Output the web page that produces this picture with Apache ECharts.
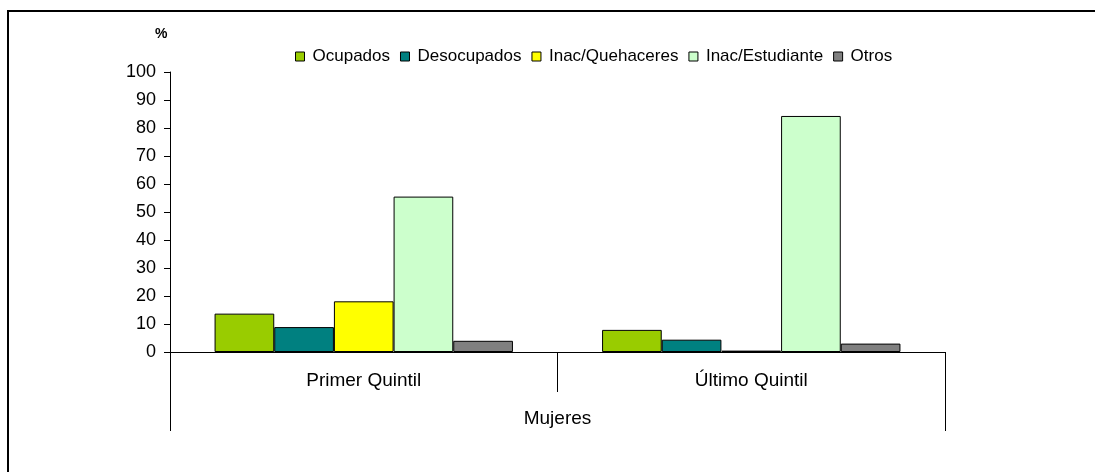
<!DOCTYPE html>
<html>
<head>
<meta charset="utf-8">
<script src="https://cdn.jsdelivr.net/npm/echarts@6/dist/echarts.min.js"></script>
<style>
html,body{margin:0;padding:0;background:#fff;}
#chart{width:1095px;height:472px;}
</style>
</head>
<body>
<div id="chart"></div>
<script>
var categories = ['Primer Quintil', 'Último Quintil'];
var groupLabel = ['Mujeres'];
var seriesNames = ['Ocupados', 'Desocupados', 'Inac/Quehaceres', 'Inac/Estudiante', 'Otros'];
var ocupados = [13.7, 7.9];
var desocupados = [8.9, 4.4];
var quehaceres = [18.1, 0.5];
var estudiante = [55.5, 84.3];
var otros = [4.0, 3.0];
var colors = ['#99CC00', '#008080', '#FFFF00', '#CCFFCC', '#808080'];

var values = [ocupados, desocupados, quehaceres, estudiante, otros];
var FONT = '"Liberation Sans", Arial, sans-serif';

var chart = echarts.init(document.getElementById('chart'), null, {renderer: 'canvas'});
var series = seriesNames.map(function (name, i) {
  return {
    name: name,
    type: 'bar',
    data: values[i],
    xAxisIndex: 0,
    barGap: '0%',
    barCategoryGap: '23%',
    itemStyle: {color: colors[i], borderColor: '#000', borderWidth: 1},
    emphasis: {disabled: true}
  };
});

chart.setOption({
  animation: false,
  backgroundColor: '#fff',
  color: colors,
  textStyle: {fontFamily: FONT, color: '#000'},
  grid: {left: 170, right: 150, top: 72, bottom: 120, containLabel: false},
  legend: {
    data: seriesNames,
    left: 290,
    top: 43,
    itemWidth: 9,
    itemHeight: 9,
    itemGap: 10,
    icon: 'rect',
    itemStyle: {borderColor: '#000', borderWidth: 1},
    textStyle: {fontFamily: FONT, fontSize: 17, color: '#000', padding: [0, 0, 0, 3]}
  },
  graphic: [
    {type: 'text', left: 155, top: 27, style: {text: '%', font: 'bold 14px ' + FONT, fill: '#000'}},
    {type: 'line', shape: {x1: 8, y1: 11, x2: 1095, y2: 11}, style: {stroke: '#000', lineWidth: 2}},
    {type: 'line', shape: {x1: 8, y1: 10, x2: 8, y2: 472}, style: {stroke: '#000', lineWidth: 2}}
  ],
  xAxis: [
    {
      type: 'category',
      data: categories,
      position: 'bottom',
      axisLine: {show: true, lineStyle: {color: '#000', width: 1}},
      axisTick: {show: true, length: 40, interval: 0, lineStyle: {color: '#000'}},
      axisLabel: {fontSize: 19, color: '#000', margin: 19, fontFamily: FONT, interval: 0},
      splitLine: {show: false}
    },
    {
      type: 'category',
      data: groupLabel,
      position: 'bottom',
      axisLine: {show: false},
      axisTick: {show: true, length: 79, lineStyle: {color: '#000'}},
      axisLabel: {fontSize: 19, color: '#000', margin: 57, fontFamily: FONT},
      splitLine: {show: false}
    }
  ],
  yAxis: {
    type: 'value',
    min: 0,
    max: 100,
    interval: 10,
    axisLine: {show: true, lineStyle: {color: '#000', width: 1}},
    axisTick: {show: true, length: 6, lineStyle: {color: '#000'}},
    axisLabel: {fontSize: 18, color: '#000', margin: 14, fontFamily: FONT},
    splitLine: {show: false}
  },
  series: series
});
</script>
</body>
</html>
